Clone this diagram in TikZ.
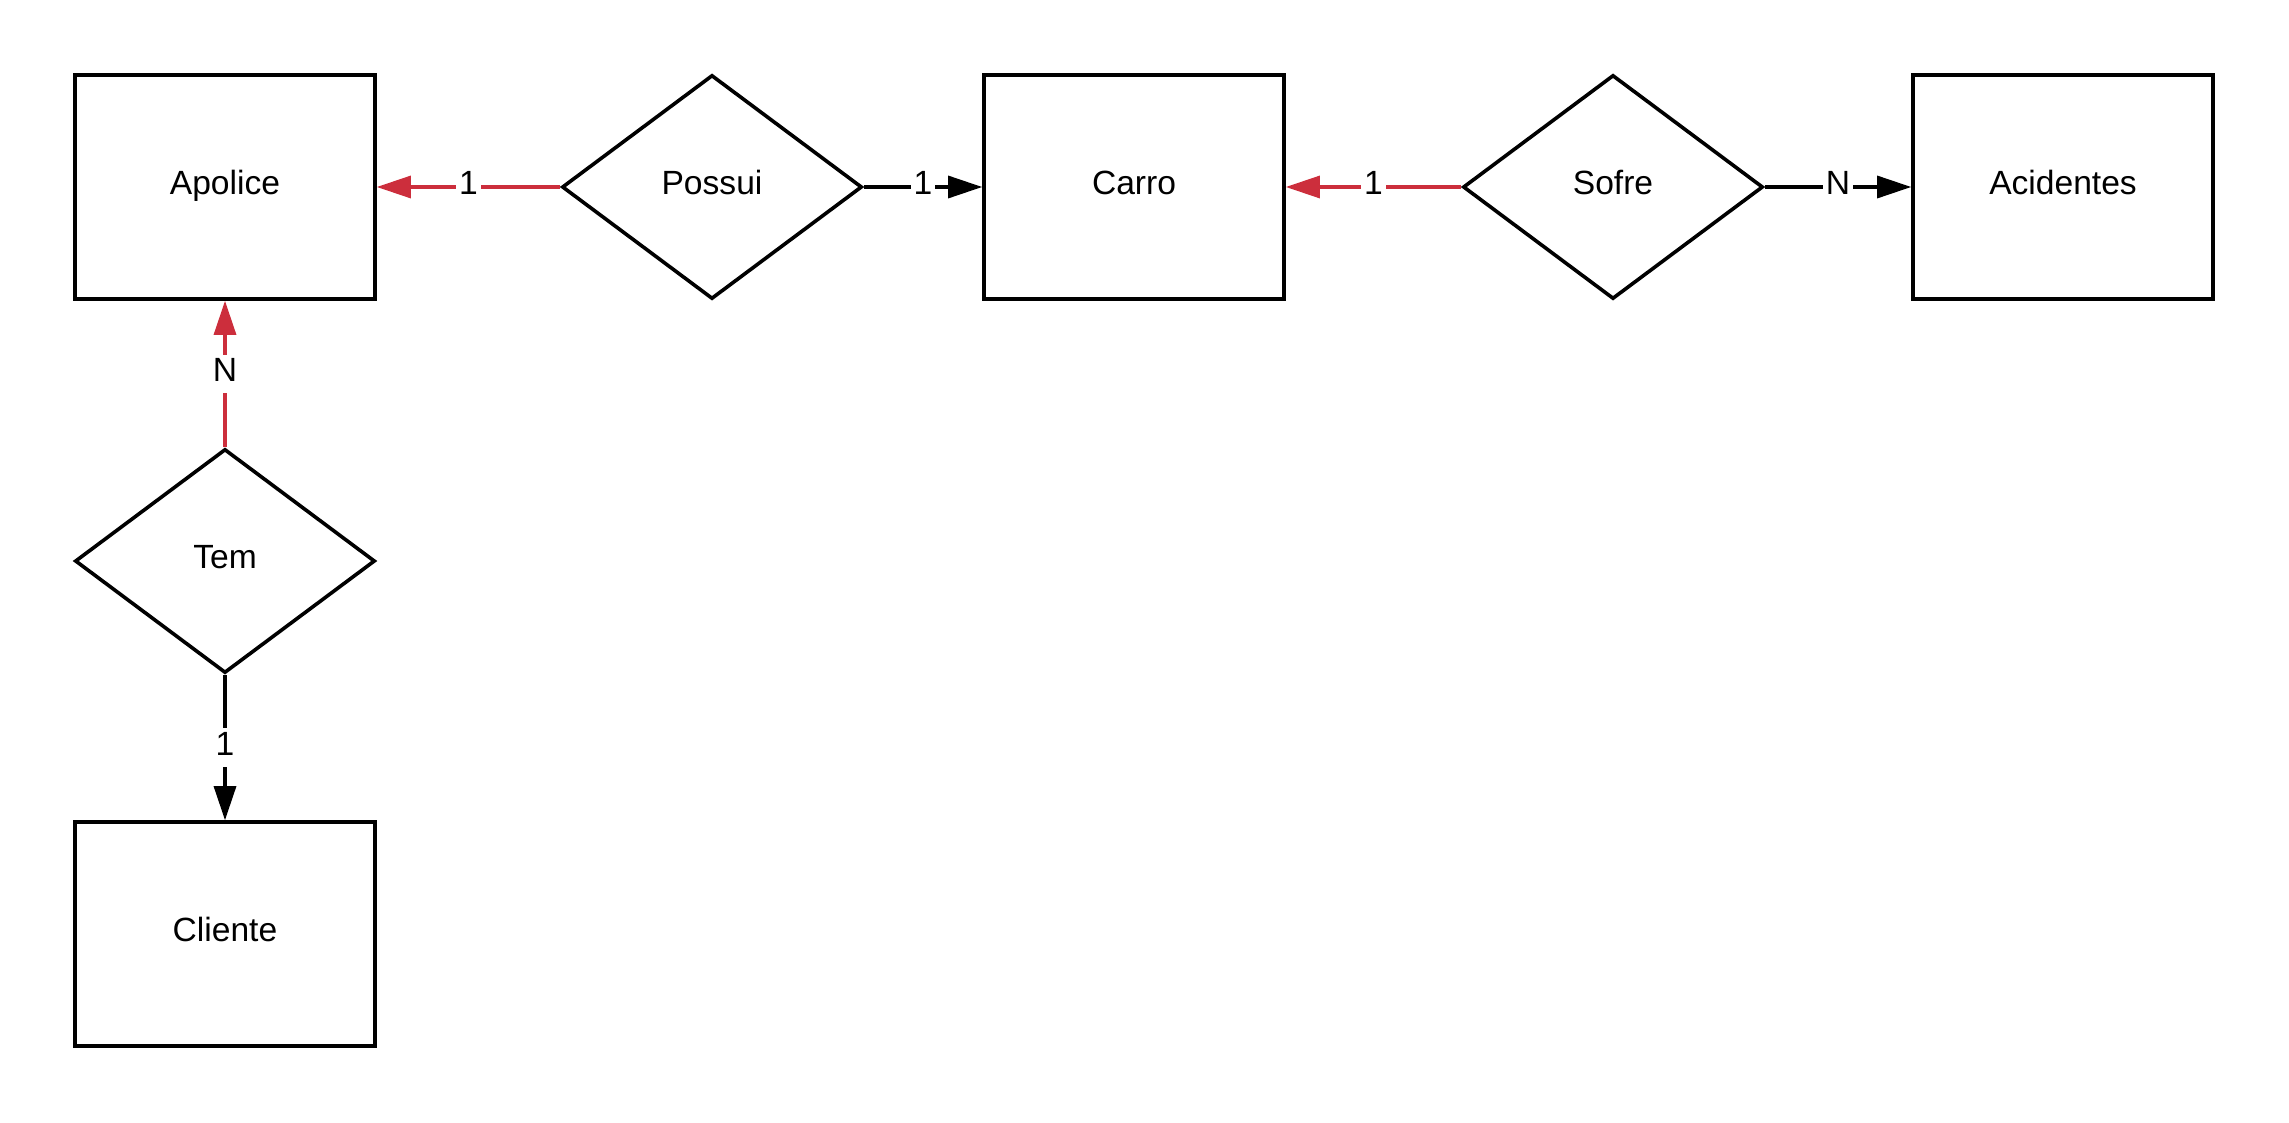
\documentclass[tikz,border=0pt]{standalone}
\usepackage{fontspec}
\setmainfont{Liberation Sans}
\usepackage{xcolor}
\usetikzlibrary{shapes.geometric,arrows.meta}
\definecolor{relred}{RGB}{204,46,60}
\tikzset{
  txt/.style={font=\fontsize{16.8}{20}\selectfont, text height=12pt, text depth=4.4pt},
  ent/.style={rectangle, draw=black, fill=white, line width=1.8pt, minimum width=150pt, minimum height=112pt, inner sep=0pt, txt},
  rel/.style={diamond, draw=black, fill=white, line width=1.8pt, minimum width=150pt, minimum height=112pt, aspect=1.34, inner sep=0pt, txt},
  Redge/.style={draw=relred, line width=1.6pt, -{Triangle[length=17pt,width=11pt]}},
  Bedge/.style={draw=black, line width=1.6pt, -{Triangle[length=17pt,width=11pt]}},
  lbl/.style={fill=white, inner sep=1.5pt, txt},
  erdiagram/.style={x=0.5pt, y=-0.5pt}
}
\begin{document}
\begin{tikzpicture}[erdiagram]
  \useasboundingbox (0,0) rectangle (2289,1123);

  % Entities
  \node[ent] (apo) at (225,187) {Apolice};
  \node[ent] (car) at (1134,187) {Carro};
  \node[ent] (aci) at (2063,187) {Acidentes};
  \node[ent] (cli) at (225,934) {Cliente};

  % Relationships
  \node[rel] (pos) at (712,187) {Possui};
  \node[rel] (sof) at (1613,187) {Sofre};
  \node[rel] (tem) at (225,561) {Tem};

  % Red edges
  \draw[Redge] (pos) -- node[lbl] {1} (apo);
  \draw[Redge] (sof) -- node[lbl] {1} (car);
  \draw[Redge] (tem) -- node[lbl, pos=0.5] {N} (apo);

  % Black edges
  \draw[Bedge] (pos) -- node[lbl] {1} (car);
  \draw[Bedge] (sof) -- node[lbl] {N} (aci);
  \draw[Bedge] (tem) -- node[lbl] {1} (cli);
\end{tikzpicture}
\end{document}
